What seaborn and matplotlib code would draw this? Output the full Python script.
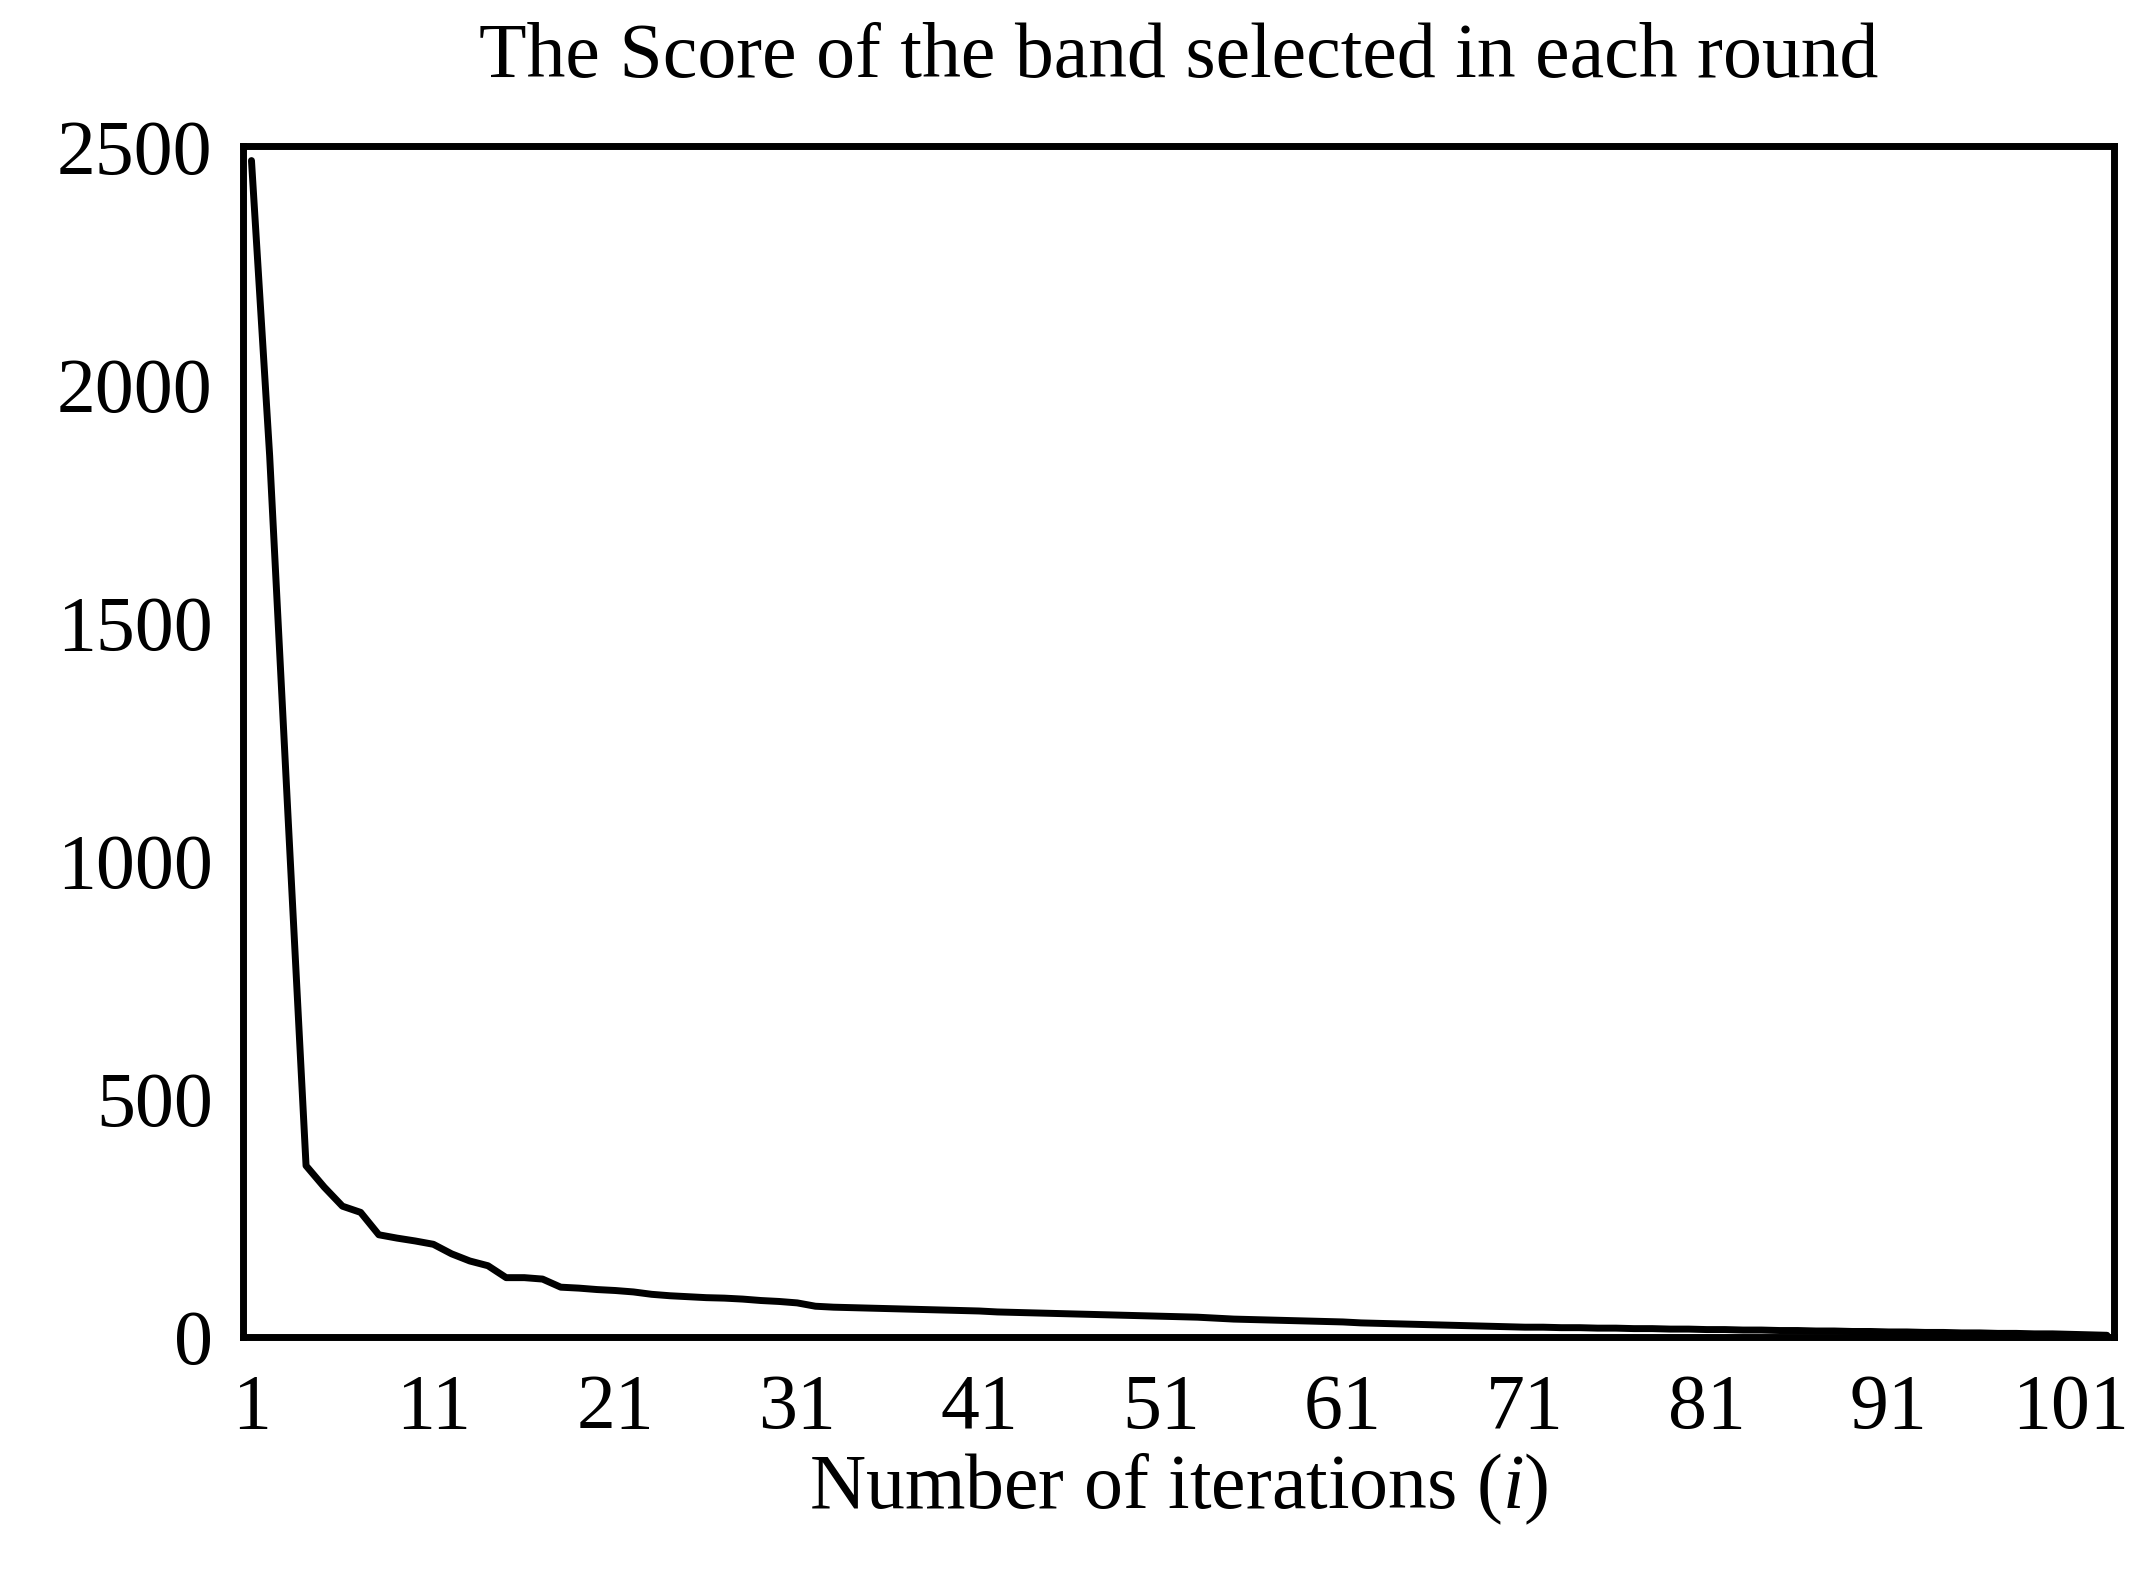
import matplotlib
matplotlib.use("Agg")
import matplotlib.pyplot as plt
import pandas as pd
import seaborn as sns

# ── Data ─────────────────────────────────────────────────────────────────────
scores = [
    2470, 1850, 1100, 360, 315, 275, 262, 215, 208, 202,
    195, 175, 160, 150, 125, 125, 122, 105, 103, 100,
    98, 95, 90, 87, 85, 83, 82, 80, 77, 75,
    72, 65, 63, 62, 61, 60, 59, 58, 57, 56,
    55, 53, 52, 51, 50, 49, 48, 47, 46, 45,
    44, 43, 42, 40, 38, 37, 36, 35, 34, 33,
    32, 30, 29, 28, 27, 26, 25, 24, 23, 22,
    21, 21, 20, 20, 19, 19, 18, 18, 17, 17,
    16, 16, 15, 15, 14, 14, 13, 13, 12, 12,
    11, 11, 10, 10, 9, 9, 8, 8, 7, 7,
    6, 5, 4,
]
iterations = list(range(1, len(scores) + 1))
x_ticks = list(range(1, 102, 10))
y_ticks = [0, 500, 1000, 1500, 2000, 2500]

df = pd.DataFrame({"iteration": iterations, "score": scores})

# ── Plot ─────────────────────────────────────────────────────────────────────
sns.set_style("white")
plt.rcParams["font.family"] = ["Liberation Serif", "DejaVu Serif"]
plt.rcParams["mathtext.fontset"] = "custom"
plt.rcParams["mathtext.it"] = "Liberation Serif:italic"
plt.rcParams["text.color"] = "black"
plt.rcParams["xtick.color"] = "black"
plt.rcParams["ytick.color"] = "black"

fig = plt.figure(figsize=(21.53, 15.9), dpi=100)
ax = fig.add_axes([0.113, 0.159, 0.869, 0.749])
sns.lineplot(data=df, x="iteration", y="score", color="black", linewidth=5, ax=ax)

ax.set_xlim(0.55, 103.4)
ax.set_ylim(0, 2500)
ax.set_xticks(x_ticks)
ax.set_yticks(y_ticks)
ax.tick_params(axis="x", direction="in", length=14, width=3, labelsize=56, pad=26)
ax.tick_params(axis="y", length=0, labelsize=56, pad=22)
for s in ax.spines.values():
    s.set_linewidth(5)
    s.set_color("black")

ax.set_xlabel("Number of iterations ($\\mathit{i}$)", fontsize=56, labelpad=4, color="black")
ax.set_ylabel("")
ax.set_title("The Score of the band selected in each round", fontsize=56, pad=50,
             color="black")

fig.savefig("out.png", dpi=100)
